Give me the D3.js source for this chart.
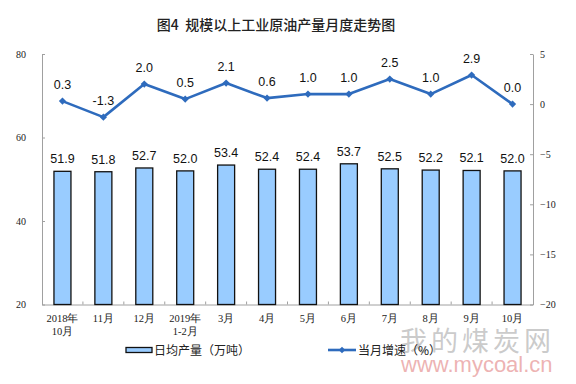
<!DOCTYPE html>
<html><head><meta charset="utf-8">
<script src="https://cdn.jsdelivr.net/npm/d3@7"></script>
<style>body{margin:0;background:#fff}svg{display:block}</style>
</head><body>
<svg id="c" width="576" height="384"></svg>
<script>
const categories = ["2018年\n10月","11月","12月","2019年\n1-2月","3月","4月","5月","6月","7月","8月","9月","10月"];
const output = [51.9,51.8,52.7,52.0,53.4,52.4,52.4,53.7,52.5,52.2,52.1,52.0];
const growth = [0.3,-1.3,2.0,0.5,2.1,0.6,1.0,1.0,2.5,1.0,2.9,0.0];
const leftTicks = [20,40,60,80];
const rightTicks = [-20,-15,-10,-5,0,5];

const svg = d3.select("#c");
const L = 42, R = 533, T = 54, B = 304.5;
const x = d3.scaleBand().domain(d3.range(categories.length)).range([L, R]).paddingInner(0).paddingOuter(0);
const yL = d3.scaleLinear().domain([20, 80]).range([B, T]);
const yR = d3.scaleLinear().domain([-20, 5]).range([B, T]);
const axisColor = "#a0a0a0";
const serif = "'Liberation Serif','DejaVu Serif',serif";
const sans = "'Liberation Sans',Arial,sans-serif";
const cjk = "'Noto Sans CJK SC',sans-serif";

// watermark (behind)
const wm = svg.append("g");
wm.append("text").attr("x", 400).attr("y", 351).attr("letter-spacing", 4)
  .attr("font-family", cjk).attr("font-size", 27).attr("fill", "#bdbdbd").attr("fill-opacity", 0.8).text("我的煤炭网");
wm.append("text").attr("x", 401).attr("y", 372)
  .attr("font-family", sans).attr("font-size", 22).attr("fill", "#eaa5a5").attr("fill-opacity", 0.85).text("www.mycoal.cn");

// title
svg.append("text").attr("x", 276).attr("y", 30).attr("text-anchor", "middle")
  .attr("xml:space", "preserve")
  .attr("font-family", cjk).attr("font-size", 14).attr("font-weight", 500)
  .attr("fill", "#222").text("图4  规模以上工业原油产量月度走势图");

// left axis
const gL = svg.append("g").attr("transform", `translate(${L},0)`)
  .call(d3.axisLeft(yL).tickValues(leftTicks).tickSize(-3).tickPadding(16).tickSizeOuter(0));
// right axis
const gR = svg.append("g").attr("transform", `translate(${R},0)`)
  .call(d3.axisRight(yR).tickValues(rightTicks).tickSize(-3).tickPadding(7).tickSizeOuter(0));
// bottom axis
const gB = svg.append("g").attr("transform", `translate(0,${B})`)
  .call(d3.axisBottom(x).tickValues([]).tickSizeOuter(0));
[gL, gR, gB].forEach(g => {
  g.select(".domain").attr("stroke", axisColor).attr("stroke-width", 1);
  g.selectAll(".tick line").attr("stroke", axisColor);
  g.selectAll(".tick text").attr("font-family", serif).attr("font-size", 10).attr("fill", "#222");
});
gR.selectAll(".tick text").attr("text-anchor", "start");
// category separators
svg.append("g").selectAll("line").data(d3.range(1, categories.length)).join("line")
  .attr("x1", d => x(d)).attr("x2", d => x(d)).attr("y1", B).attr("y2", B - 3)
  .attr("stroke", axisColor);

// category labels
const cl = svg.append("g").selectAll("text").data(categories).join("text")
  .attr("text-anchor", "middle").attr("font-family", serif).attr("font-size", 10.5).attr("fill", "#222");
cl.each(function(d, i) {
  const parts = d.split("\n");
  d3.select(this).selectAll("tspan").data(parts).join("tspan")
    .attr("x", x(i) + x.bandwidth() / 2).attr("y", (p, j) => 322 + j * 13).text(p => p);
});

// bars
const bw = 17;
svg.append("g").selectAll("rect").data(output).join("rect")
  .attr("x", (d, i) => x(i) + x.bandwidth() / 2 - bw / 2)
  .attr("y", d => yL(d)).attr("width", bw).attr("height", d => B - yL(d))
  .attr("fill", "#99CCFF").attr("stroke", "#111").attr("stroke-width", 1.3);
svg.append("g").selectAll("text").data(output).join("text")
  .attr("x", (d, i) => x(i) + x.bandwidth() / 2).attr("y", d => yL(d) - 8)
  .attr("text-anchor", "middle").attr("font-family", sans).attr("font-size", 12.5).attr("fill", "#111")
  .text(d => d.toFixed(1));

// line
const lineColor = "#2E6BBD";
const line = d3.line().x((d, i) => x(i) + x.bandwidth() / 2).y(d => yR(d));
svg.append("path").datum(growth).attr("d", line).attr("fill", "none")
  .attr("stroke", lineColor).attr("stroke-width", 2.6).attr("stroke-linejoin", "round");
svg.append("g").selectAll("path").data(growth).join("path")
  .attr("transform", (d, i) => `translate(${x(i) + x.bandwidth() / 2},${yR(d)}) rotate(45)`)
  .attr("d", d3.symbol(d3.symbolSquare, 26)()).attr("fill", lineColor);
svg.append("g").selectAll("text").data(growth).join("text")
  .attr("x", (d, i) => x(i) + x.bandwidth() / 2).attr("y", d => yR(d) - 12)
  .attr("text-anchor", "middle").attr("font-family", sans).attr("font-size", 12.5).attr("fill", "#111")
  .text(d => d.toFixed(1));

// legend
const lg = svg.append("g");
lg.append("rect").attr("x", 126).attr("y", 347.5).attr("width", 26).attr("height", 5)
  .attr("fill", "#99CCFF").attr("stroke", "#111").attr("stroke-width", 1.3);
lg.append("text").attr("x", 154).attr("y", 355).attr("font-family", cjk)
  .attr("font-size", 12).attr("fill", "#222").text("日均产量（万吨）");
lg.append("line").attr("x1", 328).attr("x2", 356).attr("y1", 350).attr("y2", 350)
  .attr("stroke", lineColor).attr("stroke-width", 2.6);
lg.append("path").attr("transform", "translate(342,350) rotate(45)")
  .attr("d", d3.symbol(d3.symbolSquare, 22)()).attr("fill", lineColor);
lg.append("text").attr("x", 358).attr("y", 355).attr("font-family", cjk)
  .attr("font-size", 12).attr("fill", "#222").text("当月增速（%）");
</script>
</body></html>
